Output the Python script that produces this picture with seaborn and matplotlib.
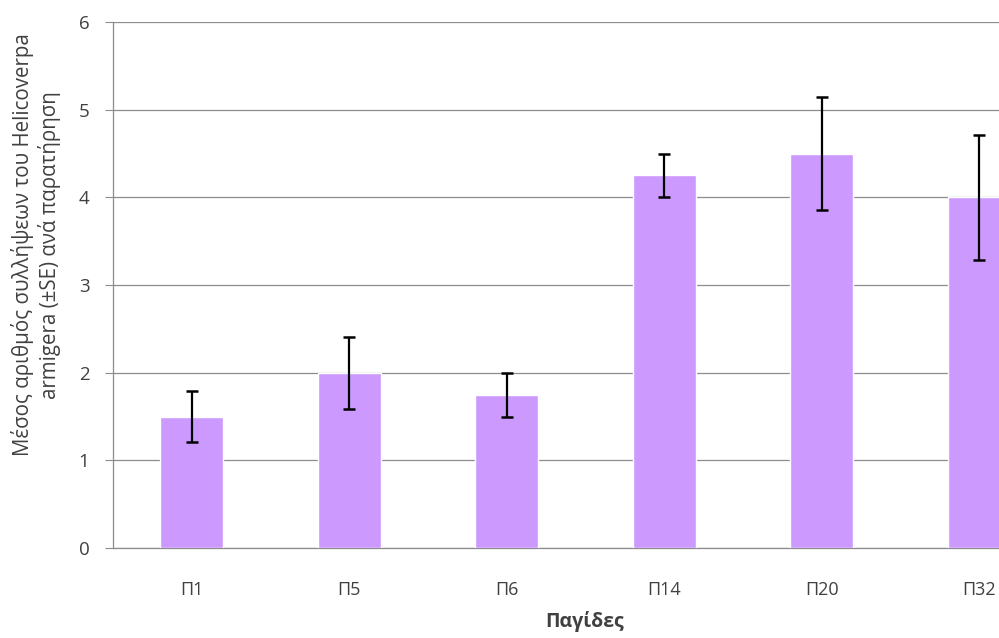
import numpy as np
import pandas as pd
import matplotlib
matplotlib.use("Agg")
import matplotlib.pyplot as plt
import seaborn as sns

# δεδομένα
traps = ["Π1", "Π5", "Π6", "Π14", "Π20", "Π32"]
means = [1.5, 2.0, 1.75, 4.25, 4.5, 4.0]
se = [0.29, 0.41, 0.25, 0.25, 0.65, 0.71]
y_ticks = [0, 1, 2, 3, 4, 5, 6]

sns.set_style("white")
plt.rcParams['font.family'] = ['Open Sans', 'DejaVu Sans']

df = pd.DataFrame({'trap': traps, 'mean': means, 'se': se})

fig = plt.figure(figsize=(9.99, 6.38), dpi=100)
# ο άξονας συνεχίζει πέρα από τη δεξιά άκρη (κομμένο γράφημα)
ax = fig.add_axes([113 / 999, 90 / 638, 945 / 999, 526 / 638])

sns.barplot(data=df, x='trap', y='mean', color='#CC99FF', saturation=1,
            width=0.4, ax=ax, zorder=3)
ax.errorbar(x=np.arange(len(traps)), y=df['mean'], yerr=df['se'], fmt='none',
            ecolor='black', elinewidth=1.6, capsize=4.5, capthick=1.8, zorder=4)

ax.set_xlim(-0.5, len(traps) - 0.5)
ax.set_ylim(0, 6)
ax.set_yticks(y_ticks)
ax.yaxis.grid(True, color='#8c8c8c', linewidth=0.9, zorder=0)
ax.set_axisbelow(True)

for side in ['top', 'right']:
    ax.spines[side].set_visible(False)
for side in ['left', 'bottom']:
    ax.spines[side].set_color('#8c8c8c')
    ax.spines[side].set_linewidth(0.9)

ax.set_xticks(np.arange(-0.5, len(traps) + 0.5, 1), minor=True)
ax.tick_params(axis='x', which='major', length=0, pad=24, labelsize=13,
               labelcolor='#404040')
ax.tick_params(axis='x', which='minor', length=6, color='#8c8c8c', direction='out')
ax.tick_params(axis='y', length=6, color='#8c8c8c', direction='out', pad=11,
               labelsize=13.5, labelcolor='#404040', left=True)

ax.set_xlabel('')
ax.set_ylabel('')
fig.text(585 / 999, 1 - 622 / 638, 'Παγίδες', ha='center', va='center',
         fontsize=14, fontweight='bold', color='#404040')
fig.text(36 / 999, 1 - 245 / 638,
         'Μέσος αριθμός συλλήψεων του Helicoverpa\narmigera (±SE) ανά παρατήρηση',
         rotation=90, ha='center', va='center', multialignment='center',
         fontsize=14.8, color='#404040', linespacing=1.2)

fig.savefig('out.png', dpi=100)
